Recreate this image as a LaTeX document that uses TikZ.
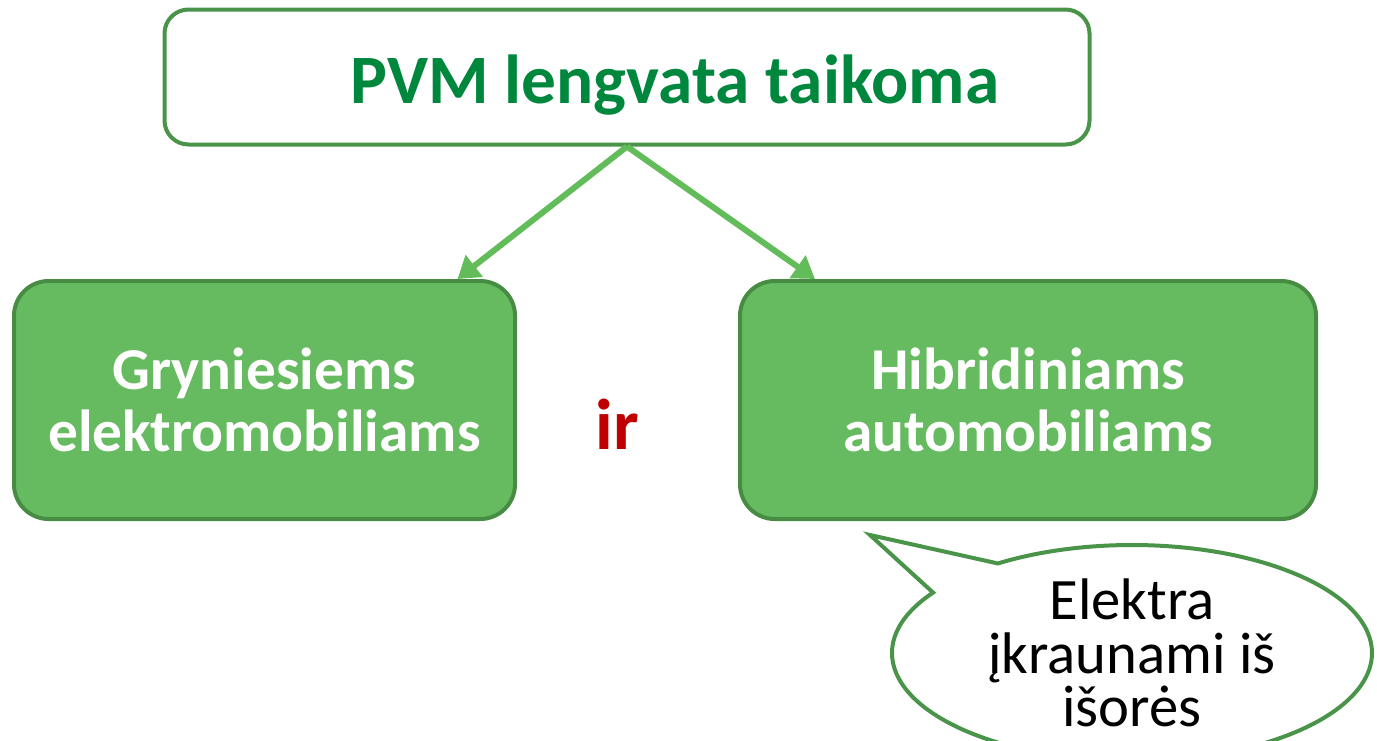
\documentclass[tikz,border=0pt]{standalone}
\usepackage{fontspec}
\setmainfont{Carlito}
\usetikzlibrary{arrows.meta,shapes.callouts}
\definecolor{framegreen}{RGB}{74,148,74}
\definecolor{titlegreen}{RGB}{0,135,62}
\definecolor{boxgreen}{RGB}{102,187,96}
\definecolor{boxedge}{RGB}{72,140,68}
\definecolor{arrowgreen}{RGB}{98,188,90}
\definecolor{irred}{RGB}{192,0,0}

\begin{document}
\begin{tikzpicture}[x=0.75pt,y=-0.75pt,
    head/.style = {draw=framegreen, line width=3pt, fill=white, rounded corners=18pt,
                   minimum width=693.75pt, minimum height=101.25pt, text=titlegreen,
                   text height=39pt, text depth=0pt,
                   font=\fontsize{52}{60}\selectfont\bfseries},
    kind/.style = {draw=boxedge, line width=3pt, fill=boxgreen, rounded corners=26pt,
                   minimum height=178.5pt, align=center, text=white,
                   font=\fontsize{44.5}{46.5}\selectfont\bfseries},
    bubble/.style = {ellipse callout, draw=framegreen, line width=3pt, fill=white,
                     minimum width=360pt, minimum height=162pt, inner sep=0pt,
                     callout pointer arc=22, align=center,
                     font=\fontsize{44}{40}\selectfont},
    link/.style = {draw=arrowgreen, line width=4.5pt, -{Triangle[length=16pt,width=20pt]}}]
  \useasboundingbox (0,0) rectangle (1377,740);
  \clip (0,0) rectangle (1377,740);
  \node[head] (title) at (627,77) {\hspace*{72pt}PVM lengvata taikoma};
  \node[kind, minimum width=375.75pt] (pure) at (264.5,400) {Gryniesiems\\elektromobiliams};
  \node[kind, minimum width=432pt] (hyb) at (1028,400) {Hibridiniams\\automobiliams};
  \node[text=irred, font=\fontsize{54}{60}\selectfont\bfseries] (ir) at (617,424) {ir};
  \path[link] (title.south) -- ([xshift=144.75pt]pure.north);
  \path[link] (title.south) -- ([xshift=-159.75pt]hyb.north);
  % speech bubble under the hybrid box
  \coordinate (tip) at ([xshift=99pt,yshift=-10.5pt]hyb.south west);
  \node[bubble, callout absolute pointer={(tip)}] (note) at (1132,653)
    {Elektra\\įkraunami iš\\išorės};
\end{tikzpicture}
\end{document}
